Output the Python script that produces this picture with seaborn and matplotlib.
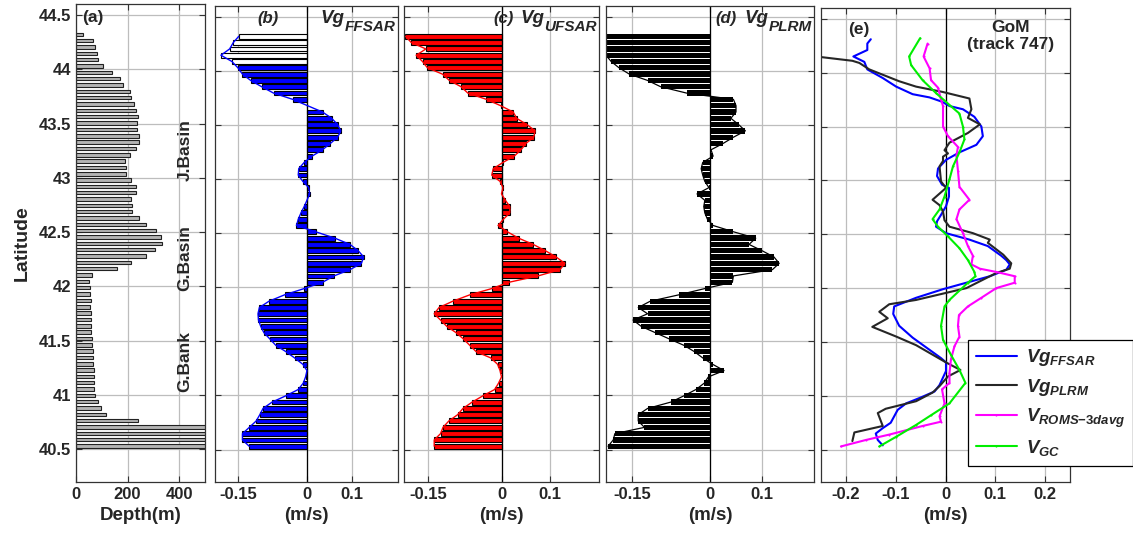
import numpy as np
import pandas as pd
import matplotlib
matplotlib.use("Agg")
import matplotlib.pyplot as plt
import seaborn as sns

# ---------------- data ----------------
lat = [44.320, 44.262, 44.203, 44.145, 44.087, 44.029, 43.970, 43.912, 43.854, 43.795,
       43.737, 43.679, 43.620, 43.562, 43.504, 43.446, 43.387, 43.329, 43.271, 43.212,
       43.154, 43.096, 43.037, 42.979, 42.921, 42.863, 42.804, 42.746, 42.688, 42.629,
       42.571, 42.513, 42.454, 42.396, 42.338, 42.280, 42.221, 42.163, 42.105, 42.046,
       41.988, 41.930, 41.871, 41.813, 41.755, 41.697, 41.638, 41.580, 41.522, 41.463,
       41.405, 41.347, 41.288, 41.230, 41.172, 41.114, 41.055, 40.997, 40.939, 40.880,
       40.822, 40.764, 40.705, 40.647, 40.589, 40.530]

depth = [27, 66, 72, 82, 85, 105, 140, 171, 184, 208,
         213, 226, 234, 242, 235, 235, 246, 243, 233, 208,
         189, 192, 192, 213, 232, 233, 212, 217, 216, 244,
         271, 310, 328, 335, 306, 270, 214, 158, 62, 49,
         54, 54, 58, 55, 58, 58, 59, 60, 62, 62,
         64, 66, 67, 68, 69, 69, 71, 75, 85, 95,
         118, 241, 1500, 1500, 1500, 1500]

vg_ffsar = [-0.148, -0.160, -0.168, -0.187, -0.163, -0.150, -0.140, -0.122, -0.098, -0.072,
            -0.030, 0.002, 0.035, 0.055, 0.068, 0.075, 0.068, 0.052, 0.035, 0.012,
            -0.005, -0.017, -0.018, -0.008, 0.005, 0.007, 0.001, -0.005, -0.012, -0.018,
            -0.022, 0.020, 0.062, 0.095, 0.113, 0.125, 0.120, 0.095, 0.060, 0.035,
            -0.005, -0.048, -0.082, -0.103, -0.106, -0.105, -0.100, -0.093, -0.080, -0.067,
            -0.045, -0.026, -0.008, 0.001, -0.002, -0.007, -0.018, -0.045, -0.075, -0.095,
            -0.102, -0.110, -0.125, -0.140, -0.140, -0.125]
ffsar_status = ["flagged"] * 5 + ["valid"] * 61

vg_ufsar = [-0.197, -0.185, -0.155, -0.175, -0.162, -0.152, -0.121, -0.107, -0.083, -0.069,
            -0.031, -0.002, 0.024, 0.031, 0.052, 0.069, 0.066, 0.050, 0.040, 0.026,
            0.003, -0.017, -0.020, -0.003, 0.003, 0.000, 0.008, 0.017, 0.017, 0.004,
            -0.007, 0.012, 0.035, 0.065, 0.090, 0.112, 0.130, 0.120, 0.075, 0.015,
            -0.020, -0.065, -0.100, -0.128, -0.138, -0.125, -0.112, -0.093, -0.078, -0.065,
            -0.052, -0.022, -0.008, -0.003, 0.000, -0.006, -0.014, -0.038, -0.060, -0.079,
            -0.090, -0.108, -0.120, -0.125, -0.138, -0.138]

vg_plrm = [-0.210, -0.210, -0.205, -0.200, -0.190, -0.175, -0.155, -0.120, -0.095, -0.045,
           0.045, 0.050, 0.050, 0.040, 0.055, 0.068, 0.045, 0.025, 0.002, 0.006,
           -0.014, -0.017, -0.014, -0.010, -0.002, -0.025, -0.010, -0.012, -0.010, -0.005,
           0.006, 0.045, 0.088, 0.075, 0.100, 0.123, 0.133, 0.120, 0.045, 0.043,
           -0.010, -0.060, -0.115, -0.138, -0.120, -0.148, -0.132, -0.105, -0.078, -0.050,
           -0.030, -0.014, 0.005, 0.027, -0.003, -0.011, -0.027, -0.050, -0.075, -0.120,
           -0.138, -0.138, -0.126, -0.183, -0.186, -0.196]

# panel (e) profiles
e_ffsar_lat = [44.31, 44.27, 44.21, 44.15, 44.10, 44.03, 43.95, 43.87, 43.80, 43.77, 43.73,
               43.69, 43.66, 43.59, 43.50, 43.41, 43.33, 43.26, 43.19, 43.11, 43.04, 42.96,
               42.93, 42.85, 42.76, 42.68, 42.62, 42.57, 42.51, 42.45, 42.39, 42.30, 42.26,
               42.22, 42.17, 42.11, 42.05, 41.99, 41.91, 41.83, 41.76, 41.65, 41.54, 41.45,
               41.35, 41.31, 41.23, 41.17, 41.10, 41.04, 40.98, 40.93, 40.87, 40.75, 40.70,
               40.65, 40.59, 40.54]
e_ffsar_val = [-0.150, -0.157, -0.157, -0.185, -0.163, -0.157, -0.126, -0.099, -0.066, -0.032,
               -0.007, 0.008, 0.035, 0.058, 0.072, 0.075, 0.062, 0.028, 0.001, -0.015,
               -0.017, -0.007, 0.007, 0.007, 0.001, -0.009, -0.017, -0.019, 0.001, 0.048,
               0.085, 0.112, 0.122, 0.129, 0.122, 0.089, 0.042, -0.005, -0.059, -0.103,
               -0.105, -0.093, -0.066, -0.039, -0.009, 0.001, 0.001, -0.005, -0.012, -0.022,
               -0.052, -0.079, -0.096, -0.110, -0.126, -0.140, -0.136, -0.126]

e_plrm_lat = [44.15, 44.11, 44.09, 44.03, 43.92, 43.87, 43.82, 43.76, 43.66, 43.58, 43.52,
              43.44, 43.35, 43.28, 43.25, 43.22, 43.18, 43.13, 42.99, 42.93, 42.82, 42.77,
              42.71, 42.63, 42.57, 42.51, 42.45, 42.42, 42.31, 42.23, 42.18, 42.14, 42.00,
              41.89, 41.85, 41.78, 41.72, 41.64, 41.55, 41.47, 41.31, 41.24, 41.18, 41.09,
              41.03, 40.95, 40.88, 40.84, 40.72, 40.66, 40.58]
e_plrm_val = [-0.260, -0.187, -0.173, -0.153, -0.093, -0.059, -0.005, 0.048, 0.052, 0.045,
              0.069, 0.045, 0.008, -0.002, 0.005, -0.005, -0.005, -0.012, -0.009, 0.001,
              -0.026, -0.012, -0.005, -0.002, 0.008, 0.055, 0.089, 0.085, 0.116, 0.132,
              0.129, 0.102, 0.042, -0.059, -0.113, -0.133, -0.116, -0.147, -0.099, -0.059,
              0.001, 0.030, 0.005, -0.012, -0.026, -0.059, -0.120, -0.136, -0.126, -0.183,
              -0.187]

e_roms_lat = [44.27, 44.15, 44.04, 43.93, 43.86, 43.75, 43.69, 43.50, 43.41, 43.31, 43.23,
              43.09, 42.94, 42.82, 42.73, 42.64, 42.51, 42.39, 42.30, 42.22, 42.18, 42.15,
              42.11, 42.05, 42.00, 41.91, 41.83, 41.75, 41.65, 41.55, 41.46, 41.34, 41.21,
              41.12, 41.06, 40.93, 40.81, 40.76, 40.72, 40.64, 40.59, 40.53]
e_roms_val = [-0.036, -0.044, -0.032, -0.029, -0.015, -0.009, -0.005, -0.005, 0.005, 0.025,
              0.022, 0.025, 0.028, 0.048, 0.028, 0.022, 0.035, 0.045, 0.055, 0.052,
              0.069, 0.102, 0.139, 0.139, 0.102, 0.072, 0.045, 0.027, 0.025, 0.028,
              0.018, 0.011, 0.008, 0.008, -0.007, -0.002, -0.012, -0.009, -0.046, -0.113,
              -0.160, -0.210]

e_gc_lat = [44.32, 44.15, 44.07, 43.93, 43.81, 43.70, 43.62, 43.50, 43.38, 43.26, 43.13,
            43.01, 42.85, 42.73, 42.64, 42.57, 42.48, 42.37, 42.26, 42.15, 42.11, 42.05,
            41.89, 41.83, 41.65, 41.52, 41.38, 41.24, 41.12, 40.93, 40.82, 40.73, 40.62,
            40.53]
e_gc_val = [-0.051, -0.073, -0.069, -0.046, -0.019, 0.008, 0.028, 0.035, 0.038, 0.028,
            0.015, 0.008, -0.002, -0.012, -0.026, -0.015, 0.005, 0.028, 0.045, 0.058,
            0.060, 0.045, 0.008, -0.002, -0.009, -0.005, 0.011, 0.028, 0.040, 0.008,
            -0.029, -0.059, -0.099, -0.133]

lat_ticks = [40.5, 41, 41.5, 42, 42.5, 43, 43.5, 44, 44.5]
lat_ticklabels = ["40.5", "41", "41.5", "42", "42.5", "43", "43.5", "44", "44.5"]
depth_ticks = [0, 200, 400]
vel_ticks = [-0.15, 0, 0.1]
vel_ticklabels = ["-0.15", "0", "0.1"]
e_ticks = [-0.2, -0.1, 0, 0.1, 0.2]
e_ticklabels = ["-0.2", "-0.1", "0", "0.1", "0.2"]

# ---------------- style ----------------
sns.set_style("ticks")
plt.rcParams["font.family"] = ["Liberation Sans", "DejaVu Sans"]
plt.rcParams["font.weight"] = "bold"
plt.rcParams["axes.unicode_minus"] = False
plt.rcParams["mathtext.fontset"] = "custom"
plt.rcParams["mathtext.it"] = "Liberation Sans:italic:bold"
plt.rcParams["mathtext.rm"] = "Liberation Sans:bold"
plt.rcParams["mathtext.bf"] = "Liberation Sans:bold"

W, H = 1133, 537
fig = plt.figure(figsize=(W / 100, H / 100), dpi=100)
renderer = fig.canvas.get_renderer()


def add_ax(l, r, t, b):
    return fig.add_axes([l / W, 1 - b / H, (r - l) / W, (b - t) / H])


axa = add_ax(76, 205, 4, 482)
axb = add_ax(215, 398, 6, 482)
axc = add_ax(404, 599, 6, 482)
axd = add_ax(606, 814, 6, 482)
axe = add_ax(821, 1070, 8, 482)

GRID = "#bdbdbd"
TICKFS = 12
LABFS = 13.5


def common(ax):
    ax.set_ylim(40.2, 44.6)
    ax.set_yticks(lat_ticks)
    ax.grid(True, color=GRID, lw=0.9)
    ax.set_axisbelow(True)
    ax.tick_params(direction="in", right=True, top=True, length=4,
                   labelsize=TICKFS, width=0.8, color="#333333")
    for s in ax.spines.values():
        s.set_color("#333333")
        s.set_linewidth(0.9)
    ax.set_ylabel("")


def panel_title(ax, tag, x_tag, main, sub, x_right, y_main, y_sub):
    ax.text(x_tag, y_main, tag, transform=ax.transAxes, ha="left", va="center",
            fontsize=12, fontweight="bold", fontstyle="italic")
    t_sub = ax.text(x_right, y_sub, sub, transform=ax.transAxes, ha="right",
                    va="center", fontsize=11, fontweight="bold", fontstyle="italic")
    bb = t_sub.get_window_extent(renderer)
    x_left = ax.transAxes.inverted().transform((bb.x0, bb.y0))[0]
    ax.text(x_left, y_main, main, transform=ax.transAxes, ha="right", va="center",
            fontsize=13.5, fontweight="bold", fontstyle="italic")


# ---- panel (a)
dfa = pd.DataFrame({"lat": lat, "depth": depth})
sns.barplot(data=dfa, x="depth", y="lat", orient="h", native_scale=True,
            width=0.55, color="#b4b4b4", edgecolor="#222222", linewidth=0.8,
            errorbar=None, saturation=1, ax=axa)
common(axa)
axa.set_xlim(0, 500)
axa.set_xticks(depth_ticks)
axa.set_yticklabels(lat_ticklabels)
axa.set_xlabel("Depth(m)", fontsize=LABFS, fontweight="bold")
axa.set_ylabel("Latitude", fontsize=LABFS + 0.5, fontweight="bold", labelpad=6)
axa.text(0.047, 0.972, "(a)", transform=axa.transAxes, fontsize=12.5,
         fontweight="bold", va="center", ha="left")
for txt, y in [("J.Basin", 43.26), ("G.Basin", 42.26), ("G.Bank", 41.31)]:
    axa.text(422, y, txt, rotation=90, ha="center", va="center",
             fontsize=12.5, fontweight="bold")

# ---- panel (b)
dfb = pd.DataFrame({"lat": lat, "v": vg_ffsar, "status": ffsar_status})
sns.barplot(data=dfb, x="v", y="lat", hue="status", orient="h", native_scale=True,
            palette={"flagged": "white", "valid": "#0000ff"}, width=0.75,
            edgecolor="black", linewidth=0.8, errorbar=None, saturation=1,
            dodge=False, legend=False, ax=axb)
sns.lineplot(x=vg_ffsar, y=lat, sort=False, estimator=None, color="#0000ff",
             lw=1.0, ax=axb)

# ---- panel (c)
dfc = pd.DataFrame({"lat": lat, "v": vg_ufsar})
sns.barplot(data=dfc, x="v", y="lat", orient="h", native_scale=True, width=0.8,
            color="#ff0000", edgecolor="black", linewidth=0.8, errorbar=None,
            saturation=1, ax=axc)
sns.lineplot(x=vg_ufsar, y=lat, sort=False, estimator=None, color="#ff0000",
             lw=1.0, ax=axc)

# ---- panel (d)
dfd = pd.DataFrame({"lat": lat, "v": vg_plrm})
sns.barplot(data=dfd, x="v", y="lat", orient="h", native_scale=True, width=0.86,
            color="black", edgecolor="none", linewidth=0, errorbar=None,
            saturation=1, ax=axd)
sns.lineplot(x=vg_plrm, y=lat, sort=False, estimator=None, color="black",
             lw=0.9, ax=axd)

for ax in (axb, axc, axd):
    common(ax)
    ax.set_xlim(-0.2, 0.2)
    ax.set_xticks(vel_ticks)
    ax.set_xticklabels(vel_ticklabels)
    ax.set_yticklabels([])
    ax.axvline(0, color="black", lw=0.9, zorder=1.5)
    ax.set_xlabel("(m/s)", fontsize=LABFS, fontweight="bold")

panel_title(axb, "(b)", 0.232, "Vg", "FFSAR", 0.985, 0.974, 0.955)
panel_title(axc, "(c)", 0.46, "Vg", "UFSAR", 0.99, 0.974, 0.955)
panel_title(axd, "(d)", 0.525, "Vg", "PLRM", 0.99, 0.974, 0.955)

# ---- panel (e)
sns.lineplot(x=e_ffsar_val, y=e_ffsar_lat, sort=False, estimator=None,
             color="#0000ff", lw=1.5, label="$Vg_{FFSAR}$", ax=axe)
sns.lineplot(x=e_plrm_val, y=e_plrm_lat, sort=False, estimator=None,
             color="#262626", lw=1.5, label="$Vg_{PLRM}$", ax=axe)
sns.lineplot(x=e_roms_val, y=e_roms_lat, sort=False, estimator=None,
             color="#ff00ff", lw=1.5, marker=".", markersize=3,
             markeredgecolor="#ff00ff", markeredgewidth=0,
             label="$V_{ROMS{-}3davg}$", ax=axe)
sns.lineplot(x=e_gc_val, y=e_gc_lat, sort=False, estimator=None,
             color="#00ee00", lw=1.5, marker=".", markersize=3,
             markeredgecolor="#00ee00", markeredgewidth=0,
             label="$V_{GC}$", ax=axe)
common(axe)
axe.set_xlim(-0.25, 0.25)
axe.set_xticks(e_ticks)
axe.set_xticklabels(e_ticklabels)
axe.set_yticklabels([])
axe.axvline(0, color="black", lw=0.9, zorder=1.5)
axe.set_xlabel("(m/s)", fontsize=LABFS, fontweight="bold")
axe.text(0.108, 0.954, "(e)", transform=axe.transAxes, fontsize=12.5,
         fontweight="bold", va="center", ha="left")
axe.text(0.763, 0.941, "GoM\n(track 747)", transform=axe.transAxes, fontsize=12.5,
         fontweight="bold", va="center", ha="center", linespacing=1.15)

handles, labels = axe.get_legend_handles_labels()
if axe.get_legend() is not None:
    axe.get_legend().remove()
leg = fig.legend(handles, labels, loc="upper left",
                 bbox_to_anchor=(968 / W, 1 - 340 / H), bbox_transform=fig.transFigure,
                 borderaxespad=0, fontsize=13.5, frameon=True, fancybox=False,
                 edgecolor="black", framealpha=1, handlelength=2.2,
                 labelspacing=0.45, borderpad=0.4, handletextpad=0.5)
leg.get_frame().set_linewidth(0.9)

fig.savefig("out.png", dpi=100)
